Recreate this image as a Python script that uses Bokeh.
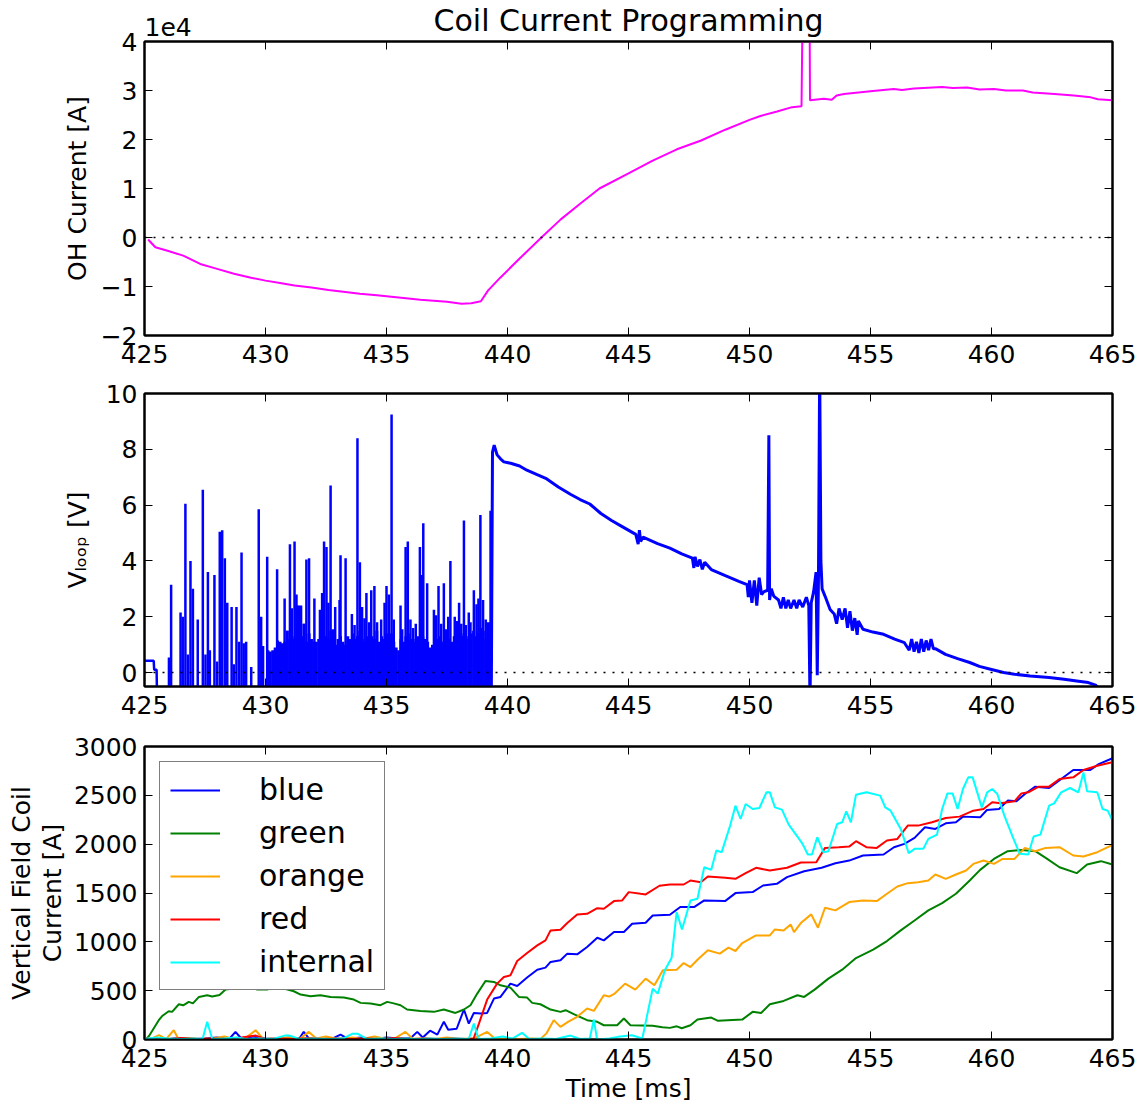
from bokeh.plotting import figure
from bokeh.models import Range1d, LinearAxis, FixedTicker, Span, Legend, LegendItem
from bokeh.core.properties import value
from bokeh.layouts import column
from bokeh.embed import file_html
from bokeh.resources import INLINE

FONT = "DejaVu Sans"
X_TICKS = [425, 430, 435, 440, 445, 450, 455, 460, 465]
TITLE = "Coil Current Programming"
OH_SCALE_TEXT = "1e4"

# ---------------- OH current (units of 1e4 A) ----------------
oh_t = [425.15, 425.45, 425.95, 426.6, 427.3, 428.0, 428.7, 429.4, 430.0, 430.6, 431.2, 431.9,
        432.6, 433.3, 433.9, 434.6, 435.4, 436.4, 437.5, 438.1, 438.5, 438.9, 439.2, 439.7,
        440.5, 441.4, 442.2, 443.0, 443.8, 445.0, 446.0, 447.0, 448.0, 449.0, 450.0, 450.45,
        451.14, 451.76, 452.15, 452.2, 452.48, 452.5, 453.07, 453.4, 453.6, 453.9, 455.1,
        455.96, 456.3, 456.8, 457.96, 458.4, 459.0, 459.5, 460.1, 460.6, 461.3, 461.7, 462.6,
        463.4, 464.1, 464.4, 465.0]
oh_v = [-0.04, -0.2, -0.27, -0.37, -0.54, -0.64, -0.74, -0.82, -0.88, -0.93, -0.98, -1.02,
        -1.07, -1.11, -1.15, -1.18, -1.22, -1.27, -1.31, -1.35, -1.34, -1.30, -1.08, -0.82,
        -0.43, 0.0, 0.37, 0.69, 1.0, 1.31, 1.57, 1.80, 1.98, 2.2, 2.40, 2.48,
        2.57, 2.66, 2.68, 5.0, 5.0, 2.80, 2.83, 2.81, 2.90, 2.93, 2.99,
        3.03, 3.01, 3.04, 3.07, 3.05, 3.06, 3.02, 3.03, 3.00, 3.00, 2.96, 2.93,
        2.90, 2.86, 2.82, 2.80]

# ---------------- V_loop ----------------
vl_floor = -1.0
spike_t = [426.01, 426.10, 426.49, 426.58, 426.69, 426.79, 426.90, 427.00, 427.20, 427.41,
           427.52, 427.62, 427.70, 427.89, 428.00, 428.11, 428.21, 428.32, 428.42, 428.60,
           428.69, 428.80, 428.91, 429.01, 429.10, 429.20, 429.41, 429.72, 429.82, 429.90,
           430.07, 430.48, 430.79, 430.90, 431.01, 431.09, 431.20, 431.28, 431.38, 431.47,
           431.58, 431.69, 431.80, 432.02, 432.25, 432.34, 432.42, 432.52, 432.60, 432.69,
           432.78, 432.88, 433.06, 433.10, 433.31, 433.57, 433.68, 433.80, 433.90, 433.99,
           434.09, 434.17, 434.28, 434.37, 434.50, 434.61, 434.78, 434.92, 435.00, 435.10,
           435.21, 435.30, 435.58, 435.65, 435.79, 435.88, 435.99, 436.10, 436.21, 436.38,
           436.47, 436.52, 436.68, 436.96, 437.05, 437.15, 437.26, 437.37, 437.45, 437.55,
           437.64, 437.82, 437.92, 438.00, 438.09, 438.20, 438.28, 438.40, 438.47, 438.61,
           438.72, 438.80, 438.88, 438.99, 439.10, 439.19, 439.30]
spike_v = [0.54, 3.15, 2.15, 2.0, 6.05, 0.65, 4.0, 3.0, 1.9, 6.55,
           0.65, 3.6, 0.8, 3.5, 0.4, 5.05, 5.1, 4.1, 2.5, 2.35,
           0.3, 2.35, 1.1, 4.3, 1.05, 1.1, 0.2, 5.85, 2.0, 0.95,
           4.15, 3.7, 2.65, 1.5, 4.6, 2.3, 4.7, 2.8, 2.4, 2.4,
           1.75, 4.05, 4.1, 2.65, 2.25, 2.85, 4.7, 4.5, 2.5, 6.7,
           1.55, 2.35, 2.6, 4.2, 4.1, 2.1, 1.7, 8.4, 3.95, 2.35,
           1.95, 2.85, 1.8, 2.95, 3.1, 1.8, 1.9, 2.5, 3.1, 2.8,
           9.25, 1.9, 2.4, 1.55, 4.5, 4.7, 1.9, 1.6, 1.75, 4.5,
           3.5, 5.35, 3.2, 2.25, 2.05, 3.1, 1.75, 3.2, 1.55, 2.0,
           4.0, 2.0, 1.85, 2.5, 1.75, 5.45, 1.7, 2.15, 1.8, 2.95,
           2.45, 2.65, 5.65, 2.6, 1.9, 1.8, 5.8]
# dense discharge background, sampled every 0.1 ms from 430.1 ms
bg_t0 = 430.1
bg_dt = 0.1
bg_v = [0.8, 0.75, 0.8, 0.9, 1.15, 1.1, 1.05, 1.1, 1.5, 1.2,
        1.3, 1.2, 2.4, 1.2, 1.3, 1.75, 1.1, 1.4, 1.2, 1.1,
        1.1, 1.2, 1.4, 1.3, 1.3, 1.2, 1.5, 1.3, 1.0, 1.2,
        1.3, 1.1, 1.0, 1.3, 1.2, 1.4, 1.2, 1.3, 1.5, 1.2,
        1.1, 1.3, 1.4, 1.3, 1.2, 1.5, 1.1, 1.3, 1.2, 1.4,
        1.3, 1.4, 1.1, 0.9, 0.8, 1.2, 1.1, 1.3, 1.4, 1.2,
        1.2, 1.1, 1.3, 1.2, 1.3, 1.2, 1.1, 0.9, 1.0, 1.3,
        1.2, 1.3, 1.1, 1.2, 1.3, 1.2, 1.1, 1.3, 1.2, 1.4,
        1.3, 1.4, 1.2, 1.3, 1.4, 1.5, 1.3, 1.4, 1.6, 1.5,
        1.2, 1.4, 1.8]
pre_t = [425.0, 425.38, 425.4, 425.5, 425.52]
pre_v = [0.42, 0.42, 0.1, 0.1, -1.0]
vl_t = [439.33, 439.38, 439.45, 439.57, 439.72, 439.85, 440.13, 440.5, 440.8, 441.2, 441.58,
        442.1, 442.6, 443.0, 443.4, 443.86, 444.3, 444.72, 445.3, 445.4, 445.45, 445.5, 445.6,
        446.2, 446.71, 447.2, 447.64, 447.7, 447.75, 447.85, 447.95, 448.05, 448.15, 448.42,
        449.0, 449.56, 449.9, 449.95, 450.0, 450.1, 450.2, 450.3, 450.4, 450.5, 450.6, 450.75,
        450.8, 450.83, 450.9, 451.0, 451.2, 451.3, 451.4, 451.5, 451.6, 451.7, 451.84, 451.95,
        452.05, 452.2, 452.35, 452.45, 452.5, 452.55, 452.65, 452.75, 452.8, 452.85, 452.9,
        452.95, 453.0, 453.12, 453.33, 453.5, 453.6, 453.7, 453.83, 453.95, 454.05, 454.15,
        454.25, 454.35, 454.45, 454.5, 454.69, 455.1, 455.54, 456.0, 456.4, 456.6, 456.7,
        456.8, 456.9, 457.0, 457.1, 457.2, 457.3, 457.4, 457.5, 457.6, 457.7, 458.1, 458.6,
        459.1, 459.5, 459.96, 460.5, 460.95, 461.6, 462.38, 463.0, 463.52, 464.0, 464.3, 464.4]
vl_v = [-1.0, 7.9, 8.15, 7.8, 7.65, 7.55, 7.5, 7.4, 7.25, 7.1, 6.96,
        6.65, 6.39, 6.2, 6.04, 5.7, 5.45, 5.24, 4.95, 4.6, 5.1, 4.7, 4.85,
        4.62, 4.46, 4.25, 4.1, 3.75, 4.15, 3.8, 4.05, 3.7, 3.95, 3.69,
        3.47, 3.27, 3.15, 2.7, 3.3, 2.5, 3.3, 2.4, 3.4, 2.8, 2.9, 2.95,
        8.5, 2.6, 3.0, 2.74, 2.6, 2.3, 2.7, 2.3, 2.6, 2.3, 2.6, 2.3,
        2.6, 2.35, 2.7, 2.4, -1.0, 2.5, 2.9, 3.6, -0.1, 3.4, 11.0,
        4.0, 3.0, 2.74, 2.26, 2.1, 1.75, 2.3, 1.9, 2.3, 1.6, 2.2,
        1.5, 1.95, 1.35, 1.85, 1.55, 1.45, 1.37, 1.2, 1.07, 0.8, 1.2,
        0.75, 1.1, 0.7, 1.2, 0.75, 1.15, 0.8, 1.2, 0.85, 0.85, 0.65, 0.5,
        0.36, 0.22, 0.12, 0.0, -0.06, -0.12, -0.18, -0.24, -0.3, -0.36, -0.45, -0.55]

# ---------------- Vertical field coil currents [A] ----------------
blue_t = [425.0, 425.5, 426.0, 426.5, 427.0, 427.5, 428.0, 428.5, 428.76, 429.0, 429.5, 430.0,
          430.5, 431.0, 431.4, 431.58, 431.8, 432.3, 432.8, 433.1, 433.4, 434.0, 434.5, 435.0,
          435.5, 436.0, 436.27, 436.5, 436.8, 437.1, 437.37, 437.55, 437.9, 438.2, 438.4,
          438.61, 438.9, 439.16, 439.44, 439.71, 440.12, 440.4, 440.81, 441.23, 441.57, 441.78,
          442.19, 442.47, 442.88, 443.29, 443.71, 443.98, 444.4, 444.81, 445.15, 445.71, 446.0,
          446.71, 447.14, 447.71, 448.13, 448.99, 449.42, 450.13, 450.56, 451.13, 451.55,
          452.26, 452.98, 453.55, 454.12, 454.69, 455.54, 455.97, 456.4, 456.82, 457.25,
          457.68, 458.11, 458.53, 458.82, 459.53, 459.81, 460.31, 460.67, 461.03, 461.38,
          461.81, 462.38, 462.88, 463.38, 464.08, 464.43, 465.0]
blue_v = [0, 10, 5, 15, 5, 10, 20, 5, 78, 10, 30, 10,
          5, 20, 10, 78, 10, 5, 15, 50, 10, 20, 5, 20,
          10, 15, 78, 20, 90, 50, 181, 100, 110, 307, 163,
          272, 265, 272, 419, 436, 572, 548, 634, 715, 736, 794,
          811, 879, 872, 947, 1042, 1015, 1100, 1100, 1185, 1195, 1270,
          1277, 1356, 1356, 1424, 1417, 1499, 1509, 1577, 1594, 1662,
          1723, 1758, 1805, 1832, 1884, 1894, 1969, 2003, 2064, 2173,
          2156, 2214, 2224, 2282, 2275, 2350, 2360, 2446, 2439, 2514,
          2589, 2575, 2667, 2759, 2759, 2820, 2880]

green_t = [425.05, 425.18, 425.59, 425.73, 426.0, 426.14, 426.42, 426.6, 426.83, 427.0, 427.25,
           427.59, 427.8, 428.1, 428.35, 428.69, 429.1, 429.4, 429.66, 430.07, 430.34, 430.76,
           431.17, 431.45, 431.86, 432.27, 432.69, 433.24, 433.65, 433.93, 434.34, 434.75,
           435.03, 435.3, 435.58, 435.85, 436.4, 436.96, 437.37, 437.85, 438.2, 438.47, 438.75,
           439.09, 439.44, 439.71, 440.12, 440.47, 440.81, 441.02, 441.36, 441.78, 442.19,
           442.4, 442.74, 443.29, 443.71, 443.98, 444.53, 444.81, 445.08, 446.0, 446.4, 446.71,
           447.0, 447.2, 447.56, 447.85, 448.42, 448.7, 449.7, 450.13, 450.48, 450.84, 451.41,
           451.98, 452.26, 452.69, 453.26, 453.83, 454.4, 455.11, 455.68, 456.25, 456.82,
           457.39, 457.96, 458.53, 459.1, 459.53, 460.1, 460.67, 461.24, 461.81, 462.24,
           462.81, 463.52, 463.95, 464.52, 465.0]
green_v = [0, 34, 198, 240, 290, 283, 361, 350, 385, 370, 436,
           453, 440, 455, 511, 521, 531, 531, 511, 511, 538, 521,
           494, 460, 443, 453, 436, 429, 409, 375, 368, 351,
           385, 370, 351, 307, 293, 283, 307, 272, 307, 351, 470,
           599, 589, 555, 531, 436, 429, 375, 361, 307, 283,
           300, 259, 198, 181, 146, 146, 215, 146, 140, 125, 119,
           135, 115, 146, 204, 225, 191, 204, 283, 272, 361, 395,
           453, 436, 511, 623, 715, 834, 920, 1008, 1117, 1219,
           1322, 1396, 1492, 1628, 1737, 1849, 1928, 1941, 1928, 1860,
           1764, 1703, 1792, 1826, 1792]

orange_t = [425.0, 425.3, 425.6, 425.9, 426.21, 426.4, 426.8, 427.3, 427.8, 428.3, 428.7,
            429.2, 429.59, 429.9, 430.4, 430.9, 431.4, 431.79, 432.1, 432.5, 433.0, 433.6,
            434.0, 434.5, 434.9, 435.3, 435.78, 436.1, 436.6, 437.0, 437.5, 438.0, 438.6,
            439.16, 439.5, 440.0, 440.5, 441.0, 441.36, 441.6, 441.91, 442.19, 442.5, 442.88,
            443.29, 443.57, 443.98, 444.2, 444.43, 444.86, 445.28, 445.71, 446.07, 446.42,
            446.99, 447.28, 447.56, 447.85, 448.28, 448.77, 449.13, 449.42, 449.7, 450.27,
            450.84, 451.05, 451.41, 451.7, 451.84, 452.12, 452.55, 452.83, 453.12, 453.55,
            454.12, 454.69, 455.26, 455.68, 456.11, 456.54, 456.97, 457.39, 457.68, 458.11,
            458.53, 458.95, 459.25, 459.67, 460.1, 460.46, 460.95, 461.38, 461.81, 462.24,
            462.81, 463.38, 463.8, 464.37, 464.94]
orange_v = [5, 10, 44, 5, 95, 5, 15, 5, 10, 30, 5,
            20, 95, 5, 10, 20, 5, 78, 10, 30, 5, 20,
            5, 30, 10, 5, 78, 5, 10, 5, 20, 5, 10,
            78, 5, 10, 5, 10, 5, 60, 198, 129, 180, 232,
            317, 293, 453, 440, 470, 572, 511, 623, 555, 708,
            715, 783, 742, 817, 913, 879, 940, 906, 988, 1066,
            1066, 1127, 1117, 1178, 1100, 1192, 1281, 1144, 1349, 1322,
            1407, 1424, 1417, 1492, 1567, 1601, 1611, 1628, 1689, 1645,
            1689, 1730, 1798, 1832, 1798, 1849, 1849, 1962, 1928, 1962,
            1969, 1884, 1873, 1918, 1986]

red_t = [425.0, 425.5, 426.0, 426.6, 427.2, 427.8, 428.4, 429.0, 429.6, 430.0, 430.6, 431.2,
         431.8, 432.4, 433.0, 433.6, 434.2, 434.8, 435.4, 436.0, 436.6, 437.2, 437.8, 438.3,
         438.6, 438.82, 439.16, 439.57, 439.85, 440.12, 440.4, 440.81, 441.23, 441.57, 441.78,
         442.19, 442.47, 442.88, 443.29, 443.71, 443.98, 444.4, 444.74, 445.01, 445.5, 445.71,
         446.28, 446.71, 447.28, 447.56, 447.99, 448.28, 449.0, 449.42, 449.84, 450.27, 450.84,
         451.55, 452.12, 452.76, 453.12, 453.69, 454.12, 454.4, 454.83, 455.26, 455.68, 456.11,
         456.54, 456.97, 457.54, 458.11, 458.68, 459.25, 459.67, 460.03, 460.38, 460.95,
         461.24, 461.52, 461.95, 462.38, 462.81, 463.38, 463.8, 464.37, 464.94]
red_v = [5, 10, 5, 15, 5, 10, 5, 20, 40, 5, 10, 5,
         15, 5, 10, 5, 10, 5, 15, 5, 10, 5, 10, 5,
         10, 163, 409, 572, 640, 657, 804, 886, 964, 1015, 1117,
         1124, 1192, 1281, 1287, 1345, 1339, 1417, 1424, 1509, 1492, 1485,
         1574, 1587, 1587, 1628, 1611, 1669, 1655, 1645, 1703, 1758, 1730,
         1758, 1812, 1815, 1962, 1969, 1975, 2030, 1969, 1962, 2037, 2054,
         2190, 2190, 2224, 2268, 2282, 2343, 2360, 2429, 2420, 2439,
         2520, 2531, 2589, 2589, 2667, 2684, 2759, 2803, 2837]

cyan_t = [425.0, 425.5, 426.0, 426.5, 427.0, 427.4, 427.59, 427.8, 428.3, 428.8, 429.2, 429.8,
          430.3, 430.8, 431.0, 431.4, 432.0, 432.6, 433.2, 433.6, 433.8, 434.2, 434.8, 435.3,
          435.8, 436.3, 436.8, 437.3, 437.9, 438.4, 438.61, 438.8, 439.3, 439.8, 440.2, 440.6,
          440.9, 441.4, 442.0, 442.6, 443.0, 443.4, 443.57, 443.7, 444.2, 444.57, 445.14,
          445.57, 446.0, 446.21, 446.5, 446.78, 446.99, 447.21, 447.56, 447.85, 448.13, 448.42,
          448.63, 448.85, 449.2, 449.42, 449.63, 449.84, 450.13, 450.41, 450.7, 450.84, 451.05,
          451.34, 451.62, 451.98, 452.19, 452.41, 452.58, 452.8, 453.05, 453.26, 453.62,
          453.83, 454.0, 454.19, 454.4, 454.83, 455.4, 455.61, 455.83, 456.25, 456.58, 456.82,
          457.18, 457.39, 457.75, 457.96, 458.18, 458.39, 458.6, 458.82, 459.04, 459.22, 459.6,
          459.82, 460.03, 460.24, 460.53, 460.88, 461.17, 461.52, 461.74, 462.02, 462.38,
          462.59, 462.88, 463.24, 463.59, 463.8, 463.95, 464.37, 464.59, 464.8, 464.97]
cyan_v = [5, 20, 10, 5, 10, 5, 181, 5, 10, 20, 5, 10,
          5, 40, 40, 5, 10, 5, 10, 60, 60, 5, 10, 5,
          10, 5, 10, 5, 10, 5, 163, 5, 10, 30, 10, 68,
          5, 10, 5, 40, 5, 10, 204, 0, 10, 27, 44,
          10, 521, 470, 708, 834, 1304, 1127, 1424, 1441, 1764, 1737,
          1935, 1918, 2190, 2394, 2258, 2411, 2360, 2370, 2531, 2531, 2377,
          2354, 2200, 2078, 2003, 1894, 1894, 2071, 1918, 1928, 2207,
          2224, 2336, 2224, 2507, 2531, 2497, 2377, 2343, 2156, 1907, 1952,
          1952, 2054, 2098, 2360, 2520, 2520, 2360, 2565, 2684, 2684, 2377,
          2531, 2565, 2514, 2292, 2071, 1901, 1894, 2078, 2098, 2394,
          2418, 2531, 2575, 2531, 2735, 2541, 2531, 2360, 2343, 2258]

series_names = ["blue", "green", "orange", "red", "internal"]
series_colors = ["#0000ff", "#008000", "#ffa500", "#ff0000", "#00ffff"]


def style_axis(ax, ticks, show_labels=True, standoff=7, overrides=None):
    ax.ticker = FixedTicker(ticks=ticks)
    ax.major_tick_in = 8
    ax.major_tick_out = 0
    ax.major_tick_line_width = 1
    ax.major_tick_line_color = "black"
    ax.minor_tick_line_color = None
    ax.axis_line_color = "black"
    ax.axis_line_width = 2
    ax.major_label_text_font = FONT
    ax.axis_label_text_font = FONT
    ax.axis_label_text_font_size = "25px"
    ax.axis_label_text_font_style = "normal"
    ax.axis_label_text_color = "black"
    ax.axis_label_text_line_height = 1.05
    if show_labels:
        ax.major_label_text_font_size = "25px"
        ax.major_label_text_color = "black"
        ax.major_label_standoff = standoff
    else:
        ax.major_label_text_font_size = "1px"
        ax.major_label_text_color = None
        ax.major_label_standoff = 0
    if overrides:
        ax.major_label_overrides = overrides


def make_fig(frame_h, top, bottom, yr, yticks, ylabel, ylabel_standoff, overrides=None,
             margin=(0, 0, 0, 0), border_fill="white"):
    p = figure(frame_width=968, frame_height=frame_h,
               x_range=Range1d(425, 465), y_range=Range1d(*yr),
               output_backend="svg", toolbar_location=None, title_location=None,
               min_border_left=144, min_border_right=30,
               min_border_top=top, min_border_bottom=bottom, margin=margin)
    p.xgrid.grid_line_color = None
    p.ygrid.grid_line_color = None
    p.outline_line_color = "black"
    p.outline_line_width = 2
    p.background_fill_color = "white"
    p.border_fill_color = border_fill
    bottom_ax = p.xaxis[0]
    left_ax = p.yaxis[0]
    style_axis(bottom_ax, X_TICKS, standoff=9)
    style_axis(left_ax, yticks, standoff=7, overrides=overrides)
    left_ax.axis_label = ylabel
    left_ax.axis_label_standoff = ylabel_standoff
    top_ax = LinearAxis()
    style_axis(top_ax, X_TICKS, show_labels=False)
    right_ax = LinearAxis()
    style_axis(right_ax, yticks, show_labels=False)
    p.add_layout(top_ax, "above")
    p.add_layout(right_ax, "right")
    return p, bottom_ax


def zero_line():
    return Span(location=0, dimension="width", line_color="black",
                line_dash="2 7", line_width=1.5)


# ---- header strip: title and the 1e4 multiplier of the OH axis ----
hdr = figure(frame_width=968, frame_height=41, x_range=Range1d(425, 465),
             y_range=Range1d(0, 41), output_backend="svg", toolbar_location=None,
             x_axis_location=None, y_axis_location=None, title_location=None,
             min_border_left=144, min_border_right=30, min_border_top=0, min_border_bottom=0)
hdr.xgrid.grid_line_color = None
hdr.ygrid.grid_line_color = None
hdr.outline_line_color = None
hdr.text(x=[445], y=[21], text=[TITLE], text_align="center", text_baseline="middle",
         text_font=value(FONT), text_font_size="30px", text_color="black")
hdr.text(x=[425], y=[15], text=[OH_SCALE_TEXT], text_align="left", text_baseline="middle",
         text_font=value(FONT), text_font_size="25px", text_color="black")

# ---- top: OH current (its transparent top border overlaps the header strip) ----
p1, _ = make_fig(294, 16, 38, (-2, 4), [-2, -1, 0, 1, 2, 3, 4], "OH Current [A]", 6,
                 overrides={-2: "\u22122", -1: "\u22121"},
                 margin=(-16, 0, 0, 0), border_fill=None)
p1.add_layout(zero_line())
p1.line(oh_t, oh_v, line_color="#ff00ff", line_width=2)

# ---- middle: loop voltage ----
p2, _ = make_fig(293, 20, 38, (-0.5, 10), [0, 2, 4, 6, 8, 10],
                 "V\u2097\u2092\u2092\u209a [V]", 11)
p2.add_layout(zero_line())
bg_t = [bg_t0 + i * bg_dt for i in range(len(bg_v))]
p2.segment(x0=bg_t, y0=vl_floor, x1=bg_t, y1=bg_v, line_color="#0000ff", line_width=3)
p2.segment(x0=spike_t, y0=vl_floor, x1=spike_t, y1=spike_v, line_color="#0000ff", line_width=2.5)
p2.line(pre_t, pre_v, line_color="#0000ff", line_width=2.5)
p2.line(vl_t, vl_v, line_color="#0000ff", line_width=3)

# ---- bottom: vertical field coil currents ----
p3, p3_bottom = make_fig(293, 22, 66, (0, 3000), [0, 500, 1000, 1500, 2000, 2500, 3000],
                         "Vertical Field Coil\nCurrent [A]", 4)
p3_bottom.axis_label = "Time [ms]"
p3_bottom.axis_label_standoff = 4
data = [(blue_t, blue_v), (green_t, green_v), (orange_t, orange_v), (red_t, red_v),
        (cyan_t, cyan_v)]
items = []
for (tt, vv), name, col in zip(data, series_names, series_colors):
    r = p3.line(tt, vv, line_color=col, line_width=2)
    items.append(LegendItem(label=name, renderers=[r]))
legend = Legend(items=items, location="top_left")
legend.margin = 15
legend.padding = 10
legend.spacing = 8
legend.glyph_width = 50
legend.glyph_height = 30
legend.label_height = 30
legend.label_standoff = 39
legend.label_text_font = FONT
legend.label_text_font_size = "30px"
legend.label_text_color = "black"
legend.border_line_color = "black"
legend.border_line_width = 1.5
legend.background_fill_color = "white"
legend.background_fill_alpha = 1.0
p3.add_layout(legend)

layout = column(hdr, p1, p2, p3, spacing=0)
open("out.html", "w").write(file_html(layout, INLINE))
